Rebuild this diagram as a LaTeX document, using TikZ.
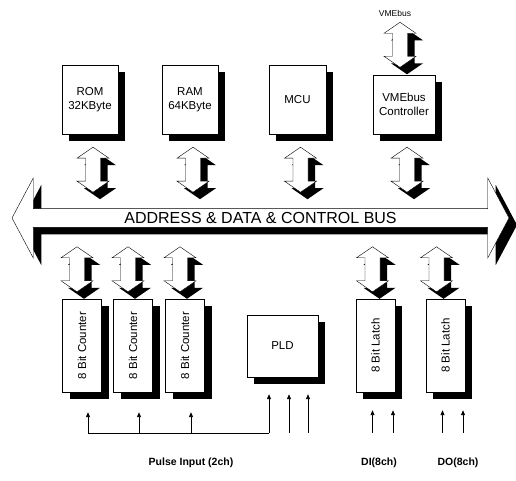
\documentclass[tikz,border=0pt]{standalone}
\usepackage{fontspec}
\setmainfont{Liberation Sans}
\usetikzlibrary{arrows.meta,positioning,shapes.arrows,shadows,calc}
\tikzset{
  shade7/.style={drop shadow={shadow xshift=7pt,shadow yshift=-7pt,fill=black,opacity=1}},
  blk/.style={rectangle,draw=black,thin,fill=white,align=center,inner sep=2pt,font=\fontsize{11.5}{14}\selectfont,shade7},
  tallblk/.style={blk,minimum width=39pt,minimum height=93pt},
  pics/link/.style={code={
    \draw[thin,fill=white,shade7] (0,22.5) -- (16,11.5) -- (7.5,11.5) -- (7.5,-11.5) -- (16,-11.5) -- (0,-22.5)
      -- (-16,-11.5) -- (-7.5,-11.5) -- (-7.5,11.5) -- (-16,11.5) -- cycle;
  }},
  busarrow/.style={double arrow,draw=black,thin,fill=white,inner sep=0pt,minimum height=497pt,minimum width=80pt,double arrow head extend=19pt,double arrow tip angle=124,font=\fontsize{16}{18}\selectfont,drop shadow={shadow xshift=8pt,shadow yshift=-7pt,fill=black,opacity=1}},
  inarrow/.style={-{Triangle[length=5pt,width=4pt]},line width=0.9pt},
  note/.style={font=\bfseries\fontsize{10.5}{12}\selectfont}
}
\begin{document}
\begin{tikzpicture}[x=1pt,y=1pt]
  \useasboundingbox (0,0) rectangle (516,481);
  \node[busarrow] (bus) at (260.5,263) {ADDRESS \& DATA \& CONTROL BUS};
  \node[blk,minimum width=56pt,minimum height=69pt] (rom) at (90,381.5) {ROM\\32KByte};
  \node[blk,minimum width=56pt,minimum height=69pt] (ram) at (190,381.5) {RAM\\64KByte};
  \node[blk,minimum width=57pt,minimum height=69pt] (mcu) at (297.5,381.5) {MCU};
  \node[blk,minimum width=62pt,minimum height=59pt] (vme) at (404,376.5) {VMEbus\\Controller};
  \node[font=\fontsize{8.5}{10}\selectfont] (vmebus) at (395,468) {VMEbus};
  \pic (lkVme) at ($(vme.north)+(-4,30)$) {link};
  \foreach \n in {rom,ram,mcu,vme}
    \pic (lk\n) at ($(\n.south)+(3,-35.5)$) {link};
  \node[tallblk] (cntA) at (82,135.5) {\rotatebox{90}{8 Bit Counter}};
  \node[tallblk] (cntB) at (133,135.5) {\rotatebox{90}{8 Bit Counter}};
  \node[tallblk] (cntC) at (185,135.5) {\rotatebox{90}{8 Bit Counter}};
  \node[blk,minimum width=71pt,minimum height=62pt] (pld) at (282.5,135) {PLD};
  \node[tallblk] (latI) at (375.5,135.5) {\rotatebox{90}{8 Bit Latch}};
  \node[tallblk] (latO) at (445.5,135.5) {\rotatebox{90}{8 Bit Latch}};
  \foreach \n/\dx in {cntA/-5,cntB/-5,cntC/-5,latI/-3,latO/-9}
    \pic (lk\n) at ($(\n.north)+(\dx,29.5)$) {link};
  \coordinate (pulL) at (88,48);
  \coordinate (pulR) at (269,48);
  \draw[line width=0.9pt] (pulL) -- (pulR);
  \foreach \n in {cntA,cntB,cntC}
    \draw[inarrow,shorten >=20pt] ([xshift=6pt]\n.south |- pulL) -- ([xshift=6pt]\n.south);
  \foreach \dx in {-13.5,6.5,25.5}
    \draw[inarrow,shorten >=17pt] ([xshift=\dx pt]pld.south |- pulL) -- ([xshift=\dx pt]pld.south);
  \foreach \n in {latI,latO}
    \foreach \dx in {-3,17.5}
      \draw[inarrow,shorten >=18pt] ([xshift=\dx pt]\n.south |- pulL) -- ([xshift=\dx pt]\n.south);
  \node[note] (pulse) at (191,18) {Pulse Input (2ch)};
  \node[note] (dIn) at (379,18) {DI(8ch)};
  \node[note] (dOut) at (458,18) {DO(8ch)};
\end{tikzpicture}
\end{document}
